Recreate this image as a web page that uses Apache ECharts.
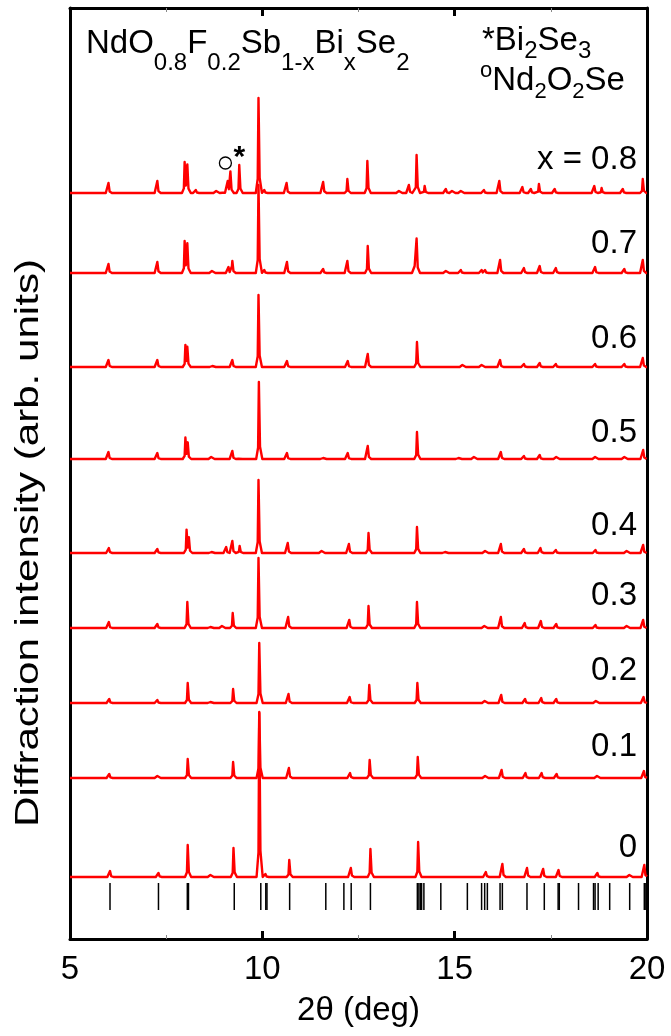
<!DOCTYPE html>
<html><head><meta charset="utf-8">
<script src="https://cdn.jsdelivr.net/npm/echarts@6/dist/echarts.min.js"></script>
<style>html,body{margin:0;padding:0;background:#fff}#c{width:671px;height:1036px}</style>
</head><body><div id="c"></div>
<script>
// ---------------- data ----------------
const compositions = ['0', '0.1', '0.2', '0.3', '0.4', '0.5', '0.6', '0.7', '0.8'];
const compositionLabels = ['0', '0.1', '0.2', '0.3', '0.4', '0.5', '0.6', '0.7', 'x = 0.8'];
// vertical offset of each pattern's baseline (arb. units)
const baselineOffsets = [62, 161, 236, 311, 386, 480, 572, 666, 746];
// label anchor height above each baseline (arb. units)
const labelLift = [18, 20, 21, 21, 16, 15, 17, 18, 22];

// peaks: [2theta (deg), height (arb. units)]
const peaks_x00 = [[6.04,6],[7.30,4],[8.06,32],[8.65,2],[9.25,29],[9.92,165],[10.08,3],[10.70,17],[12.30,9],[12.81,28],[14.05,35],[15.81,5],[16.24,13],[16.88,9],[17.30,8],[17.70,7],[18.71,4],[19.54,2],[19.93,12]];
const peaks_x01 = [[6.02,4],[7.27,2],[8.06,19],[9.24,16],[9.92,65],[10.69,10],[12.28,5],[12.79,18],[14.04,21],[15.79,2],[16.22,8],[16.84,5],[17.26,5],[17.65,4],[18.70,2],[19.92,7]];
const peaks_x02 = [[6.02,4],[7.27,3],[8.06,20],[8.65,1],[9.24,14],[9.92,60],[10.68,9],[12.27,6],[12.78,18],[14.03,20],[15.78,2],[16.21,8],[16.83,4],[17.25,5],[17.64,4],[18.67,2],[19.91,6]];
const peaks_x03 = [[6.01,6],[7.27,4],[8.05,26],[8.65,1],[8.95,2],[9.23,15],[9.90,70],[10.67,11],[12.26,8],[12.76,22],[14.02,26],[15.77,2],[16.20,11],[16.82,5],[17.24,7],[17.64,4],[18.66,3],[19.47,2],[19.90,8]];
const peaks_x04 = [[6.01,5],[7.27,4],[8.03,23],[8.09,14],[8.68,1],[9.06,6],[9.22,12],[9.41,7],[9.90,73],[10.66,10],[11.54,2],[12.25,9],[12.76,20],[14.02,26],[14.75,1],[15.79,2],[16.20,9],[16.80,4],[17.23,5],[17.63,3],[18.66,3],[19.47,2],[19.90,8]];
const peaks_x05 = [[6.00,7],[7.27,6],[8.00,21],[8.06,15],[8.67,2],[9.22,8],[9.40,2],[9.91,77],[10.64,6],[11.58,1],[12.22,6],[12.74,13],[14.02,27],[15.10,1],[15.50,2],[16.20,7],[16.80,3],[17.21,4],[17.64,2],[18.65,2],[19.41,2],[19.90,9]];
const peaks_x06 = [[6.00,7],[7.27,7],[8.00,21],[8.05,18],[8.70,1],[9.22,7],[9.90,72],[10.64,6],[12.22,6],[12.74,13],[14.02,25],[15.20,2],[15.70,2],[16.18,7],[16.80,3],[17.21,4],[17.63,3],[18.65,3],[19.41,3],[19.89,9]];
const peaks_x07 = [[6.00,9],[7.27,11],[7.98,32],[8.05,28],[8.69,2],[9.12,6],[9.22,12],[9.90,88],[10.05,3],[10.64,11],[11.58,4],[12.21,12],[12.74,27],[13.96,5],[14.01,34],[14.77,2],[15.16,3],[15.70,3],[15.79,3],[16.18,13],[16.80,5],[17.21,7],[17.63,5],[18.65,6],[19.41,4],[19.89,13]];
const peaks_x08 = [[6.00,10],[7.27,12],[7.98,31],[8.05,27],[8.27,3],[8.80,2],[8.98,2],[9.10,12],[9.17,21],[9.40,28],[9.90,95],[10.05,3],[10.63,10],[11.58,11],[12.21,14],[12.73,32],[13.55,2],[13.81,8],[14.01,38],[14.22,7],[14.77,4],[14.93,2],[15.16,2],[15.76,3],[16.16,12],[16.76,6],[16.98,4],[17.19,9],[17.60,4],[18.63,7],[18.82,5],[19.37,4],[19.89,14]];
const allPeaks = [peaks_x00, peaks_x01, peaks_x02, peaks_x03, peaks_x04, peaks_x05, peaks_x06, peaks_x07, peaks_x08];

// reference reflection positions (2theta, deg)
const referenceTicks = [6.04, 7.30, 8.05, 8.08, 9.27, 9.96, 10.09, 10.12, 10.71, 11.65, 12.12, 12.31, 12.81,
  14.03, 14.07, 14.11, 14.14, 14.20, 14.64, 15.33, 15.70, 15.78, 15.85, 16.18, 16.24, 16.88, 17.33,
  17.69, 17.72, 18.22, 18.61, 18.65, 18.73, 19.03, 19.55, 19.93, 19.97];
const referenceTickRange = [29, 56];   // arb. units

// impurity markers (data coords)
const markerNd2O2Se = [9.04, 776];
const markerBi2Se3 = [9.40, 788];

const xMin = 5, xMax = 20, xInterval = 5;
const yMin = 0, yMax = 931;

// ---------------- build profiles ----------------
// peak shape vertices relative to the peak: [d2theta, fraction of height]
const shape = [[-0.07, 0], [-0.02, 0.15], [0, 1], [0.03, 0.16], [0.09, 0]];
function peakValue(pk, x) {
  const [p, h] = pk;
  for (let i = 0; i < shape.length - 1; i++) {
    const xa = p + shape[i][0], xb = p + shape[i + 1][0];
    if (x >= xa && x <= xb) {
      const t = (x - xa) / (xb - xa);
      return h * (shape[i][1] + t * (shape[i + 1][1] - shape[i][1]));
    }
  }
  return 0;
}
function profile(peaks, offset) {
  let xs = [xMin, xMax];
  peaks.forEach(pk => shape.forEach(s => xs.push(+(pk[0] + s[0]).toFixed(4))));
  xs = Array.from(new Set(xs.filter(x => x >= xMin && x <= xMax))).sort((a, b) => a - b);
  return xs.map(x => [x, offset + peaks.reduce((acc, pk) => acc + peakValue(pk, x), 0)]);
}

const FONT = 'Liberation Sans, Arial, Helvetica, sans-serif';
const chart = echarts.init(document.getElementById('c'), null, { renderer: 'canvas' });

const series = allPeaks.map((pk, i) => ({
  name: compositions[i],
  type: 'line',
  data: profile(pk, baselineOffsets[i]),
  symbol: 'none',
  lineStyle: { color: '#ff0000', width: 2.4, join: 'round' },
  z: 3,
  animation: false,
  silent: true
}));
series.push({
  name: 'reference',
  type: 'custom',
  data: referenceTicks.map(x => [x]),
  renderItem: function (params, api) {
    const p0 = api.coord([api.value(0), referenceTickRange[0]]);
    const p1 = api.coord([api.value(0), referenceTickRange[1]]);
    return { type: 'line', shape: { x1: p0[0], y1: p0[1], x2: p1[0], y2: p1[1] },
      style: { stroke: '#000', lineWidth: 1.5 } };
  },
  animation: false,
  silent: true
});

const axisLineStyle = { color: '#000', width: 3 };
chart.setOption({
  backgroundColor: '#fff',
  animation: false,
  grid: { left: 70, right: 24, top: 8, bottom: 97 },
  xAxis: [{
    type: 'value', min: xMin, max: xMax, interval: xInterval, position: 'bottom',
    axisLine: { show: true, onZero: false, lineStyle: axisLineStyle },
    axisTick: { show: true, inside: true, length: 8, lineStyle: { color: '#000', width: 3 } },
    minorTick: { show: true, splitNumber: 2, length: 4, lineStyle: { color: '#888', width: 1 } },
    splitLine: { show: false },
    axisLabel: { show: true, fontFamily: FONT, fontSize: 33, color: '#000', margin: 14 },
    name: '2θ (deg)', nameLocation: 'middle', nameGap: 55,
    nameTextStyle: { fontFamily: FONT, fontSize: 33, color: '#000' }
  }, {
    type: 'value', min: xMin, max: xMax, interval: xInterval, position: 'top',
    axisLine: { show: true, onZero: false, lineStyle: axisLineStyle },
    axisTick: { show: true, inside: true, length: 8, lineStyle: { color: '#000', width: 3 } },
    minorTick: { show: true, splitNumber: 2, length: 4, lineStyle: { color: '#888', width: 1 } },
    splitLine: { show: false },
    axisLabel: { show: false }
  }],
  yAxis: [{
    type: 'value', min: yMin, max: yMax, position: 'left',
    axisLine: { show: true, onZero: false, lineStyle: axisLineStyle },
    axisTick: { show: false }, axisLabel: { show: false }, splitLine: { show: false }
  }, {
    type: 'value', min: yMin, max: yMax, position: 'right',
    axisLine: { show: true, onZero: false, lineStyle: axisLineStyle },
    axisTick: { show: false }, axisLabel: { show: false }, splitLine: { show: false }
  }],
  series: series
});

// ---------------- text overlays ----------------
const ctx = document.createElement('canvas').getContext('2d');
function measure(t, size) { ctx.font = size + 'px ' + FONT; return ctx.measureText(t).width; }
function txt(t, x, baseline, size, align) {
  return { type: 'text', x: x, y: baseline - 0.3465 * size, silent: true, z: 100,
    style: { text: t, font: size + 'px ' + FONT, fill: '#000',
      align: align || 'left', textAlign: align || 'left', verticalAlign: 'middle', textVerticalAlign: 'middle' } };
}
// parts: [text, kind] kind: m main, s sub, u sup
function run(parts, x0, baseline, mSize, sSize, drop, rise) {
  const els = []; let x = x0;
  parts.forEach(([t, k]) => {
    const size = k === 'm' ? mSize : sSize;
    const b = k === 's' ? baseline + drop : (k === 'u' ? baseline - rise : baseline);
    els.push(txt(t, x, b, size));
    x += measure(t, size);
  });
  return els;
}

const elements = [];
elements.push(...run([['NdO','m'],['0.8','s'],['F','m'],['0.2','s'],['Sb','m'],['1-x','s'],['Bi','m'],['x','s'],['Se','m'],['2','s']], 86, 55, 33, 24, 17, 0));
elements.push(...run([['*','m'],['Bi','m'],['2','s'],['Se','m'],['3','s']], 482, 52, 33, 24, 8, 0));
elements.push(...run([['o','u'],['Nd','m'],['2','s'],['O','m'],['2','s'],['Se','m']], 480, 92, 33, 22, 8, 13));

// y-axis title (vertically elongated as in the original figure)
const yTitle = 'Diffraction intensity (arb. units)';
const yTitleLen = 568;
elements.push({ type: 'text', x: 29, y: 543, rotation: Math.PI / 2, scaleX: yTitleLen / measure(yTitle, 33), scaleY: 1,
  silent: true, z: 100,
  style: { text: yTitle, font: '33px ' + FONT, fill: '#000', align: 'center', textAlign: 'center',
    verticalAlign: 'middle', textVerticalAlign: 'middle' } });

function drawOverlays() {
  const els = elements.slice();
  compositionLabels.forEach((lab, i) => {
    const p = chart.convertToPixel({ xAxisIndex: 0, yAxisIndex: 0 }, [19.74, baselineOffsets[i] + labelLift[i]]);
    els.push(txt(lab, p[0], p[1], 33, 'right'));
  });
  const c = chart.convertToPixel({ xAxisIndex: 0, yAxisIndex: 0 }, markerNd2O2Se);
  els.push({ type: 'circle', shape: { cx: c[0], cy: c[1], r: 6 }, silent: true, z: 100,
    style: { fill: 'none', stroke: '#000', lineWidth: 1.3 } });
  const a = chart.convertToPixel({ xAxisIndex: 0, yAxisIndex: 0 }, markerBi2Se3);
  els.push({ type: 'text', x: a[0], y: a[1] + 7, silent: true, z: 100,
    style: { text: '*', font: 'bold 30px ' + FONT, fill: '#000', align: 'center', textAlign: 'center',
      verticalAlign: 'middle', textVerticalAlign: 'middle' } });
  chart.setOption({ graphic: { elements: els } });
}
drawOverlays();
</script>
</body></html>
